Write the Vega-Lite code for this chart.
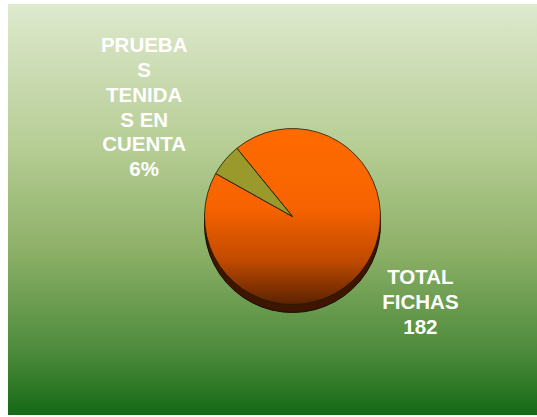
{
  "$schema": "https://vega.github.io/schema/vega-lite/v6.json",
  "width": 529,
  "height": 411,
  "autosize": {"type": "none"},
  "padding": {"left": 8, "top": 4, "right": 0, "bottom": 2},
  "background": "white",
  "config": {"view": {"stroke": null}},
  "datasets": {
    "fondo": [{"capa": "fondo"}],
    "datos": [
      {"idx": 1, "categoria": "TOTAL FICHAS", "valor": 182, "etiqueta": "TOTAL\nFICHAS\n182"},
      {"idx": 2, "categoria": "PRUEBAS TENIDAS EN CUENTA", "valor": 11.6, "etiqueta": "PRUEBA\nS\nTENIDA\nS EN\nCUENTA\n6%"}
    ]
  },
  "layer": [
    {
      "data": {"name": "fondo"},
      "mark": {
        "type": "rect",
        "fill": {
          "gradient": "linear",
          "x1": 0, "y1": 0, "x2": 0, "y2": 1,
          "stops": [
            {"offset": 0, "color": "#dee9ce"},
            {"offset": 0.35, "color": "#b6cd94"},
            {"offset": 0.6, "color": "#8db067"},
            {"offset": 0.85, "color": "#4b8a3a"},
            {"offset": 1, "color": "#156915"}
          ]
        }
      },
      "encoding": {}
    },
    {
      "data": {"name": "datos"},
      "mark": {"type": "arc", "radius": 88, "xOffset": 20, "yOffset": 15, "fill": "#3d1500", "stroke": "#1e0a00", "strokeWidth": 1},
      "encoding": {
        "theta": {"field": "valor", "type": "quantitative", "stack": true, "scale": {"domain": [0, 193.6], "range": [-0.684, 5.599]}},
        "order": {"field": "idx", "type": "quantitative"}
      }
    },
    {
      "data": {"name": "datos"},
      "mark": {"type": "arc", "xOffset": 20, "yOffset": 7, "stroke": "#1a1a00", "strokeWidth": 0.8},
      "encoding": {
        "theta": {"field": "valor", "type": "quantitative", "stack": true},
        "order": {"field": "idx", "type": "quantitative"},
        "radius": {"condition": {"test": "datum.idx === 2", "value": 96}, "value": 88},
        "fill": {
          "condition": {"test": "datum.idx === 2", "value": "#9a9a2c"},
          "value": {
            "gradient": "linear",
            "x1": 0, "y1": 0, "x2": 0, "y2": 1,
            "stops": [
              {"offset": 0, "color": "#ff6b00"},
              {"offset": 0.45, "color": "#f76300"},
              {"offset": 0.75, "color": "#c04a00"},
              {"offset": 1, "color": "#5c2200"}
            ]
          }
        }
      }
    },
    {
      "data": {"name": "datos"},
      "transform": [{"filter": "datum.idx === 1"}],
      "mark": {"type": "text", "radius": 137, "xOffset": 20, "yOffset": 7, "dx": 23, "dy": -27, "font": "Liberation Sans", "fontWeight": "bold", "fontSize": 20.5, "fill": "white", "lineBreak": "\n", "lineHeight": 25, "align": "center", "baseline": "middle"},
      "encoding": {
        "theta": {"field": "valor", "type": "quantitative", "stack": true},
        "text": {"field": "etiqueta", "type": "nominal"}
      }
    },
    {
      "data": {"name": "datos"},
      "transform": [
        {"stack": "valor", "groupby": [], "sort": [{"field": "idx", "order": "ascending"}], "as": ["ini", "fin"]},
        {"filter": "datum.idx === 2"}
      ],
      "mark": {"type": "text", "radius": 222, "xOffset": 20, "yOffset": 7, "dx": -8, "dy": 2, "font": "Liberation Sans", "fontWeight": "bold", "fontSize": 20.5, "fill": "white", "lineBreak": "\n", "lineHeight": 24.7, "align": "center", "baseline": "middle"},
      "encoding": {
        "theta": {"field": "fin", "type": "quantitative", "stack": null},
        "text": {"field": "etiqueta", "type": "nominal"}
      }
    }
  ]
}
